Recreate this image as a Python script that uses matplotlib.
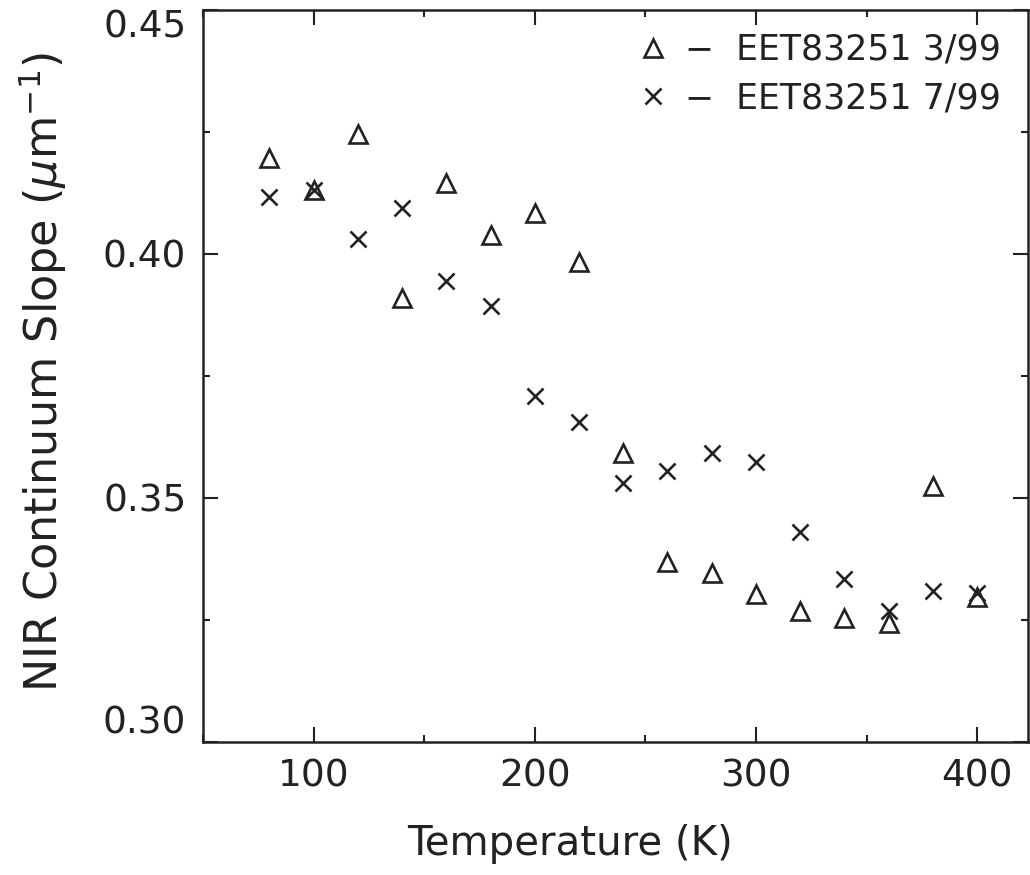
import matplotlib
matplotlib.use("Agg")
import matplotlib.pyplot as plt
from matplotlib.ticker import MultipleLocator, FormatStrFormatter

# ---- data ----
temperature = [80, 100, 120, 140, 160, 180, 200, 220, 240, 260, 280, 300, 320, 340, 360, 380, 400]
slope_mar99 = [0.4196, 0.4131, 0.4245, 0.3910, 0.4146, 0.4038, 0.4085, 0.3984, 0.3592,
               0.3369, 0.3346, 0.3303, 0.3269, 0.3255, 0.3243, 0.3525, 0.3297]
slope_jul99 = [0.4116, 0.4131, 0.4031, 0.4095, 0.3945, 0.3893, 0.3710, 0.3655, 0.3530,
               0.3556, 0.3593, 0.3574, 0.3431, 0.3335, 0.3268, 0.3310, 0.3306]
label_mar99 = "EET83251 3/99"
label_jul99 = "EET83251 7/99"
y_ticks = [0.30, 0.35, 0.40, 0.45]

plt.rcParams['font.family'] = ['DejaVu Sans']
ink = '#222222'

fig = plt.figure(figsize=(10.3, 8.75), dpi=100)
ax = fig.add_axes([203/1030, 133/875, 825/1030, 732/875])

h1, = ax.plot(temperature, slope_mar99, ls='none', marker='^', ms=13, mfc='none',
              mec=ink, mew=1.9)
h2, = ax.plot(temperature, slope_jul99, ls='none', marker='x', ms=12,
              mec=ink, mew=1.9)

ax.set_xlim(50, 423)
ax.set_ylim(0.30, 0.45)
ax.xaxis.set_major_locator(MultipleLocator(100))
ax.xaxis.set_minor_locator(MultipleLocator(50))
ax.set_yticks(y_ticks)
ax.yaxis.set_minor_locator(MultipleLocator(0.025))
ax.yaxis.set_major_formatter(FormatStrFormatter('%.2f'))

ax.tick_params(which='both', direction='in', top=True, right=True, color=ink,
               width=1.5, labelsize=27, labelcolor=ink)
ax.tick_params(which='major', length=11, pad=12)
ax.tick_params(which='minor', length=5)
for s in ax.spines.values():
    s.set_linewidth(1.8)
    s.set_color(ink)

# end labels sit inside the axis range, as in the original
yt = ax.yaxis.get_major_ticks()
yt[0].label1.set_va('bottom')
yt[-1].label1.set_va('top')

ax.set_xlabel("Temperature (K)", fontsize=29, color=ink)
ax.xaxis.set_label_coords(0.445, -0.112)
ax.set_ylabel(r"NIR Continuum Slope ($\mu$m$^{-1}$)", fontsize=32, color=ink)
ax.yaxis.set_label_coords(-0.162, 0.505)

ax.legend([h1, h2], ["\u2212  " + label_mar99, "\u2212  " + label_jul99],
          loc='upper right', frameon=False, fontsize=25, handlelength=0.8,
          handletextpad=0.5, labelspacing=0.42, borderaxespad=0.15,
          labelcolor=ink, bbox_to_anchor=(0.99, 0.995))

fig.savefig("out.png", dpi=100, facecolor='white')
